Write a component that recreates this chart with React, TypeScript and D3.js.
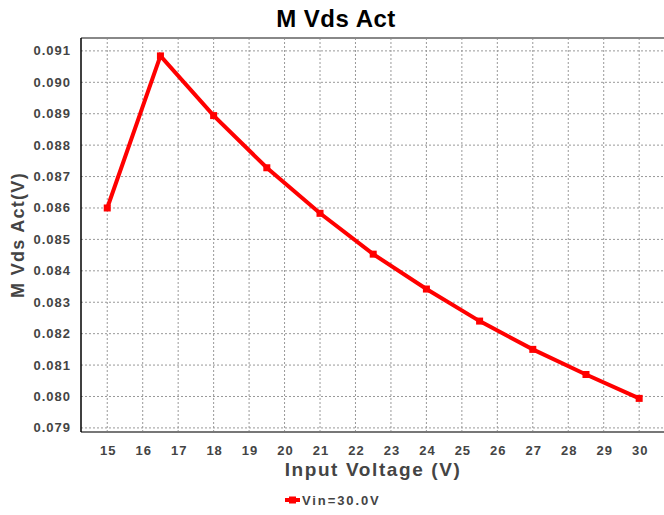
import React from 'react';
import * as d3 from 'd3';

const inputVoltage = [15, 16.5, 18, 19.5, 21, 22.5, 24, 25.5, 27, 28.5, 30];
const vdsAct = [0.086, 0.09084, 0.08894, 0.08728, 0.08583, 0.08453, 0.08342, 0.0824, 0.0815, 0.0807, 0.07994];
const xTicks = [15, 16, 17, 18, 19, 20, 21, 22, 23, 24, 25, 26, 27, 28, 29, 30];
const yTicks = [0.079, 0.08, 0.081, 0.082, 0.083, 0.084, 0.085, 0.086, 0.087, 0.088, 0.089, 0.09, 0.091];
const seriesName = 'Vin=30.0V';

const W = 664;
const H = 515;
const left = 81;
const top = 38;
const bottom = 432;
const right = 664;

const App = () => {
  const x = d3.scaleLinear().domain([14.26, 30.7]).range([left, right]);
  const y = d3.scaleLinear().domain([0.07887, 0.09141]).range([bottom, top]);

  const pts = inputVoltage.map((v, i) => [v, vdsAct[i]] as [number, number]);
  const line = d3.line<[number, number]>()
    .x(d => x(d[0]))
    .y(d => y(d[1]));

  const font = 'Liberation Sans, Arial, sans-serif';

  return (
    <svg width={W} height={H} style={{ position: 'absolute', left: 0, top: 0, background: '#fff' }}>
      <text x={336} y={27} textAnchor="middle" fontFamily={font} fontWeight="bold" fontSize={24}
        letterSpacing={0.5} fill="#000">
        M Vds Act
      </text>

      {/* grid */}
      {xTicks.map(t => (
        <line key={'gx' + t} x1={x(t)} x2={x(t)} y1={top} y2={bottom}
          stroke="#999" strokeWidth={1} strokeDasharray="2,2" />
      ))}
      {yTicks.map(t => (
        <line key={'gy' + t} x1={left} x2={right} y1={y(t)} y2={y(t)}
          stroke="#999" strokeWidth={1} strokeDasharray="2,2" />
      ))}

      {/* frame */}
      <line x1={left} x2={right} y1={top} y2={top} stroke="#888" strokeWidth={2} />
      <line x1={left} x2={right} y1={bottom} y2={bottom} stroke="#777" strokeWidth={2} />
      <line x1={left} x2={left} y1={top} y2={bottom} stroke="#000" strokeWidth={1.5} />

      {/* tick labels */}
      {yTicks.map(t => (
        <text key={'ty' + t} x={left - 10} y={y(t) + 4.5} textAnchor="end" fontFamily={font}
          fontWeight="bold" fontSize={13} letterSpacing={1} fill="#444">
          {d3.format('.3f')(t)}
        </text>
      ))}
      {xTicks.map(t => (
        <text key={'tx' + t} x={x(t) + 1} y={bottom + 23} textAnchor="middle" fontFamily={font}
          fontWeight="bold" fontSize={13} letterSpacing={1} fill="#444">
          {t}
        </text>
      ))}

      {/* axis titles */}
      <text x={373} y={476} textAnchor="middle" fontFamily={font} fontWeight="bold" fontSize={19}
        letterSpacing={1.6} fill="#444">
        Input Voltage (V)
      </text>
      <text transform={`translate(24,${(top + bottom) / 2}) rotate(-90)`} textAnchor="middle"
        fontFamily={font} fontWeight="bold" fontSize={18} letterSpacing={1.3} fill="#444">
        M Vds Act(V)
      </text>

      {/* series */}
      <path d={line(pts) ?? ''} fill="none" stroke="#ff0000" strokeWidth={4} strokeLinejoin="miter" />
      {pts.map((d, i) => (
        <rect key={'m' + i} x={x(d[0]) - 3.5} y={y(d[1]) - 3.5} width={7} height={7} fill="#ff0000" />
      ))}

      {/* legend */}
      <line x1={285} x2={300} y1={500} y2={500} stroke="#ff0000" strokeWidth={4} />
      <rect x={289} y={496.5} width={7} height={7} fill="#ff0000" />
      <text x={302} y={505} fontFamily={font} fontWeight="bold" fontSize={13} letterSpacing={1.9} fill="#444">
        {seriesName}
      </text>
    </svg>
  );
};

export default App;
